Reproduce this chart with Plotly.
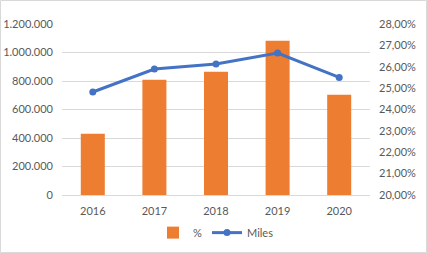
import plotly.graph_objects as go

years = ["2016", "2017", "2018", "2019", "2020"]
bar_values = [430000, 809000, 865000, 1083000, 704000]
line_values = [0.2482, 0.2589, 0.2613, 0.2664, 0.2550]
bar_name = "%"
line_name = "Miles"

W, H = 427, 253
L, R, T, B = 62, 57, 24, 58
pw = W - L - R
ph = H - T - B

fig = go.Figure()
fig.add_trace(go.Bar(x=years, y=bar_values, name=bar_name, marker_color="#ED7D31",
                     marker_line_width=0, yaxis="y"))
fig.add_trace(go.Scatter(x=years, y=line_values, name=line_name, mode="lines+markers",
                         line=dict(color="#4472C4", width=3),
                         marker=dict(color="#4472C4", size=7), yaxis="y2"))

font = dict(family="Lato, 'Open Sans', sans-serif", size=11, color="#595959")
fig.update_layout(
    width=W, height=H,
    margin=dict(l=L, r=R, t=T, b=B, autoexpand=False),
    paper_bgcolor="white", plot_bgcolor="white",
    separators=",.",
    font=font,
    bargap=0.61,
    showlegend=True,
    legend=dict(orientation="h", x=0.5, xanchor="center", y=-0.22, yanchor="middle",
                font=font, traceorder="normal", itemwidth=30),
    xaxis=dict(showgrid=False, showline=True, linecolor="#D9D9D9", linewidth=1,
               ticks="", tickfont=font, ticklabelstandoff=6, automargin=False),
    yaxis=dict(range=[0, 1200000], dtick=200000, tickformat=",.0f",
               showgrid=True, gridcolor="#D9D9D9", gridwidth=1, zeroline=False,
               showline=False, ticks="", tickfont=font, ticklabelstandoff=8,
               automargin=False),
    yaxis2=dict(range=[0.20, 0.28], dtick=0.01, tickformat=".2%", overlaying="y",
                side="right", showgrid=False, zeroline=False, showline=False,
                ticks="", tickfont=font, ticklabelstandoff=8, automargin=False),
    shapes=[dict(type="rect", xref="paper", yref="paper",
                 x0=(0.5 - L) / pw, x1=(W - 0.5 - L) / pw,
                 y0=-(H - 0.5 - T - ph) / ph, y1=1 + (T - 0.5) / ph,
                 line=dict(color="#D9D9D9", width=1), layer="below")],
)

fig.write_html("out.html", config={"displayModeBar": False},
               post_script="document.body.style.margin='0';document.body.style.overflow='hidden';")
